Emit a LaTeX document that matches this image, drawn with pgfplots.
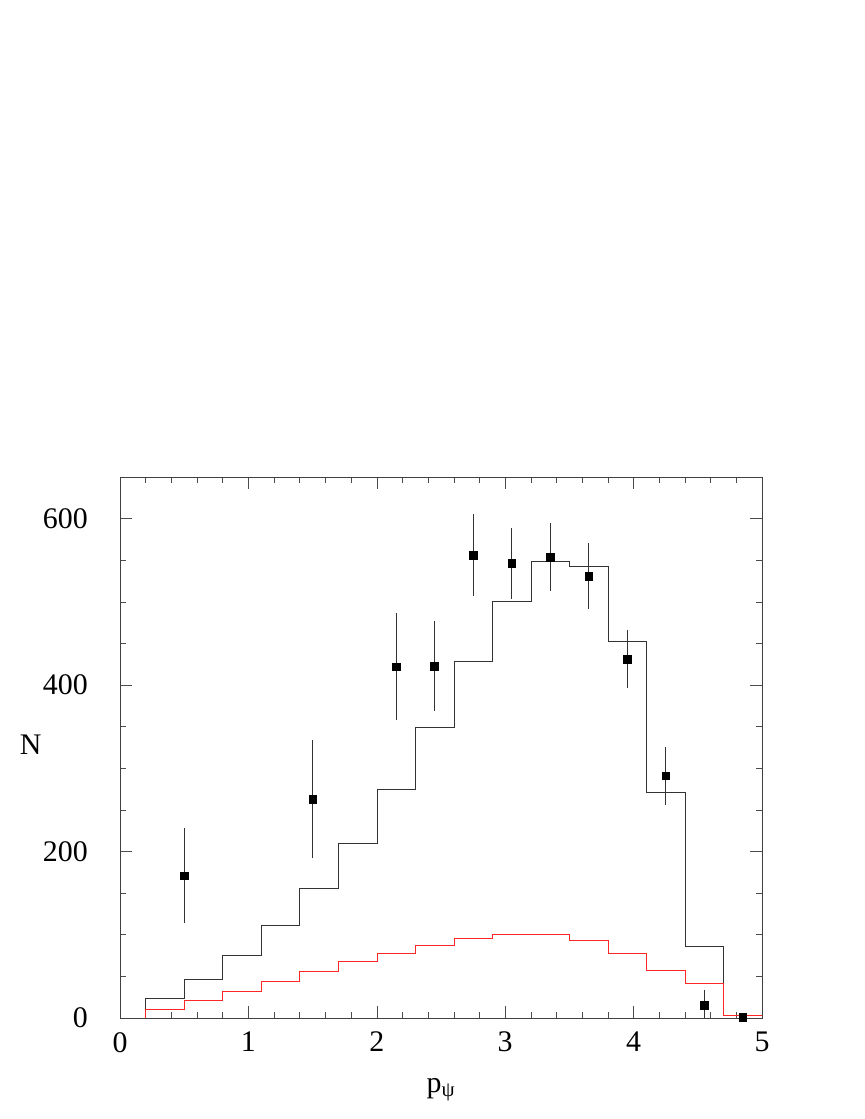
\documentclass[border=0pt]{standalone}
\usepackage{fontspec}
\setmainfont{Liberation Serif}
\usepackage{pgfplots}
\pgfplotsset{compat=1.18}
\begin{document}
\begin{tikzpicture}
\path[use as bounding box] (0,0) rectangle (865bp,1119bp);
\begin{axis}[
  at={(120bp,101bp)}, anchor=south west,
  scale only axis, width=642bp, height=541bp,
  xmin=0, xmax=5, ymin=0, ymax=650,
  xtick={0,1,...,5}, ytick={0,200,400,600},
  minor x tick num=4, minor y tick num=3,
  major tick length=12bp, minor tick length=6bp,
  tick style={black!70, line width=0.6bp},
  axis line style={black!75, line width=0.7bp},
  /pgf/number format/assume math mode=true,
  ticklabel style={font=\fontsize{30}{36}\selectfont, inner sep=0pt},
  xticklabel style={anchor=north, yshift=-14bp},
  yticklabel style={anchor=east, xshift=-32bp},
  xlabel={p\textsubscript{ψ}},
  xlabel style={font=\fontsize{30}{36}\selectfont, at={(axis description cs:0.5,-0.133)}, anchor=center, inner sep=0pt},
  clip mode=individual,
]
% model histogram (black)
\addplot[const plot mark left, black!80, line width=0.6bp] coordinates {
  (0.2,0) (0.2,24) (0.5,46.5) (0.8,75) (1.1,111) (1.4,156) (1.7,210)
  (2.0,275) (2.3,349) (2.6,428) (2.9,501) (3.2,549) (3.5,543)
  (3.8,452) (4.1,271) (4.4,86) (4.7,3) (5.0,3)
};
% second histogram (red)
\addplot[const plot mark left, red!85, line width=0.6bp] coordinates {
  (0.2,0) (0.2,11) (0.5,21) (0.8,32) (1.1,44) (1.4,56) (1.7,68)
  (2.0,78) (2.3,87) (2.6,96) (2.9,100.5) (3.2,100.5) (3.5,93)
  (3.8,78) (4.1,57) (4.4,42) (4.7,3) (5.0,3)
};
% data points
\addplot[only marks, mark=square*, mark size=3.9bp, black,
  error bars/.cd, y dir=both, y explicit,
  error mark=none, error bar style={line width=0.6bp, black!80}]
  coordinates {
  (0.5,171) +- (0,57)
  (1.5,263) +- (0,71)
  (2.15,422) +- (0,64)
  (2.45,423) +- (0,54)
  (2.75,556) +- (0,49)
  (3.05,546) +- (0,43)
  (3.35,554) +- (0,41)
  (3.65,531) +- (0,40)
  (3.95,431) +- (0,35)
  (4.25,291) +- (0,35)
  (4.55,15) +- (0,19)
  (4.85,1) +- (0,3)
};
\node[font=\fontsize{30}{36}\selectfont, inner sep=0pt] at (axis description cs:-0.139,0.505) {N};
\end{axis}
\end{tikzpicture}
\end{document}
